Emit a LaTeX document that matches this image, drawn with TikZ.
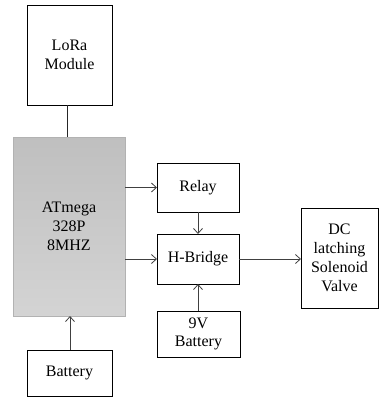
\documentclass[tikz,border=0pt]{standalone}
\usepackage{fontspec}
\setmainfont{Liberation Serif}
\usetikzlibrary{arrows.meta}
\begin{document}
\begin{tikzpicture}[x=1pt,y=-1pt,
  blk/.style={draw=black,line width=0.8pt,fill=white,inner sep=0pt,outer sep=0pt,align=center,font=\fontsize{16}{19}\selectfont,text=black},
  conn/.style={draw=black!75,line width=0.8pt,-{Straight Barb[length=5pt,width=9pt]}},
  plain/.style={draw=black!85,line width=0.8pt}]
\useasboundingbox (0,0) rectangle (380,399);
\node[blk,minimum width=85pt,minimum height=100pt] (lora) at (69.5,55) {LoRa\\Module};
\node[blk,draw=black!30,top color=black!25,bottom color=black!17,minimum width=112pt,minimum height=179pt] (atm) at (69,226.5) {ATmega\\328P\\8MHZ};
\node[blk,minimum width=82pt,minimum height=49pt] (relay) at (198,187.5) {Relay};
\node[blk,minimum width=82pt,minimum height=50pt] (hb) at (198,259) {H-Bridge};
\node[blk,minimum width=83pt,minimum height=46pt,font=\fontsize{16}{18}\selectfont] (nine) at (198.5,334) {9V\\Battery};
\node[blk,minimum width=77pt,minimum height=100pt] (dc) at (339.5,258) {DC\\latching\\Solenoid\\Valve};
\node[blk,minimum width=85pt,minimum height=46pt] (bat) at (69.5,373) {Battery};
\draw[plain] ([xshift=-2pt]lora.south) -- ([xshift=-2pt]lora.south |- atm.north);
\draw[conn] (atm.east |- relay.west) -- (relay.west);
\draw[conn] (atm.east |- hb.west) -- (hb.west);
\draw[conn] (relay.south) -- (hb.north);
\draw[conn] (nine.north -| hb.south) -- (hb.south);
\draw[conn] (hb.east) -- (dc.west |- hb.east);
\draw[conn] ([xshift=0.5pt]bat.north) -- ([xshift=0.5pt]bat.north |- atm.south);
\end{tikzpicture}
\end{document}
